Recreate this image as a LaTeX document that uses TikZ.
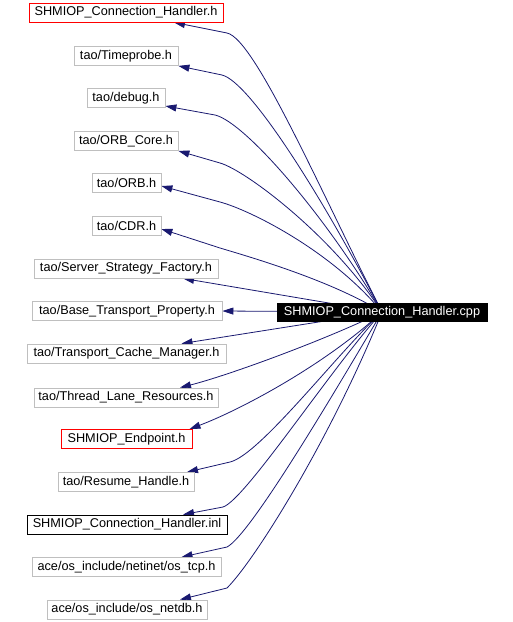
\documentclass[tikz,border=0pt]{standalone}
\usepackage{fontspec}
\setmainfont{Liberation Sans}
\usetikzlibrary{arrows.meta}
\pgfdeclarelayer{bg}
\pgfsetlayers{bg,main}
\definecolor{edgec}{HTML}{191970}
\definecolor{boxgray}{HTML}{BFBFBF}
\begin{document}
\begin{tikzpicture}[x=1pt,y=-1pt,
  file/.style={draw=boxgray, fill=white, line width=0.8pt, minimum height=19pt, inner sep=0pt, font=\fontsize{12.7}{14}\selectfont},
  redfile/.style={file, draw=red},
  blackfile/.style={file, draw=black},
  root/.style={file, draw=black, fill=black, text=white, minimum height=18pt},
  edge/.style={draw=edgec, line width=0.8pt, -{Triangle[length=11pt,width=7pt]}}]
\useasboundingbox (0,0) rectangle (513,622);
\node[redfile, minimum width=194pt] (n1) at (126,12.5) {SHMIOP\_Connection\_Handler.h};
\node[file, minimum width=104pt] (n2) at (126,56) {tao/Timeprobe.h};
\node[file, minimum width=78pt] (n3) at (126,98) {tao/debug.h};
\node[file, minimum width=104pt] (n4) at (126,141) {tao/ORB\_Core.h};
\node[file, minimum width=69pt] (n5) at (126.5,183) {tao/ORB.h};
\node[file, minimum width=69pt] (n6) at (126.5,226) {tao/CDR.h};
\node[file, minimum width=184pt] (n7) at (126,268.5) {tao/Server\_Strategy\_Factory.h};
\node[file, minimum width=190pt] (n8) at (127,311) {tao/Base\_Transport\_Property.h};
\node[file, minimum width=199pt] (n9) at (126.5,353.5) {tao/Transport\_Cache\_Manager.h};
\node[file, minimum width=184pt] (n10) at (126,397.5) {tao/Thread\_Lane\_Resources.h};
\node[redfile, minimum width=131pt] (n11) at (126.5,439) {SHMIOP\_Endpoint.h};
\node[file, minimum width=136pt] (n12) at (126,482) {tao/Resume\_Handle.h};
\node[blackfile, minimum width=200pt] (n13) at (127,524.5) {SHMIOP\_Connection\_Handler.inl};
\node[file, minimum width=189pt] (n14) at (126.5,567) {ace/os\_include/netinet/os\_tcp.h};
\node[file, minimum width=160pt] (n15) at (127,609.5) {ace/os\_include/os\_netdb.h};
\node[root, minimum width=210pt] (cpp) at (382,312) {SHMIOP\_Connection\_Handler.cpp};
\begin{pgfonlayer}{bg}
\draw[edge] (cpp.center) .. controls (320,190) and (255,39) .. (227,33) -- ([xshift=48pt]n1.south);
\draw[edge] (cpp.center) .. controls (322,196) and (250,82) .. (222,75) -- (n2.south east);
\draw[edge] (cpp.center) .. controls (327,217) and (245,122) .. (215,115) -- ([yshift=-8pt]n3.east);
\draw[edge] (cpp.center) .. controls (332,235) and (245,170) .. (220,163) -- (n4.south east);
\draw[edge] (cpp.center) .. controls (332,251) and (250,210) .. (220,202) -- ([yshift=-3pt]n5.east);
\draw[edge] (cpp.center) .. controls (330,280) and (250,257) .. (220,248) -- ([yshift=-3pt]n6.east);
\draw[edge] (cpp.center) -- ([xshift=57pt]n7.south);
\draw[edge] (cpp.center) -- (n8.east);
\draw[edge] (cpp.center) -- ([xshift=55pt]n9.north);
\draw[edge] (cpp.center) .. controls (330,338) and (230,375) .. ([xshift=54pt]n10.north);
\draw[edge] (cpp.center) .. controls (325,365) and (240,410) .. ([xshift=63pt]n11.north);
\draw[edge] (cpp.center) .. controls (340,350) and (260,455) .. (230,462) -- ([xshift=61pt]n12.north);
\draw[edge] (cpp.center) .. controls (330,370) and (245,500) .. (223,507) -- ([xshift=56pt]n13.north);
\draw[edge] (cpp.center) .. controls (330,400) and (250,535) .. (227,547) -- ([xshift=55pt]n14.north);
\draw[edge] (cpp.center) .. controls (330,440) and (255,560) .. (227,588) -- ([xshift=53pt]n15.north);
\end{pgfonlayer}
\end{tikzpicture}
\end{document}
